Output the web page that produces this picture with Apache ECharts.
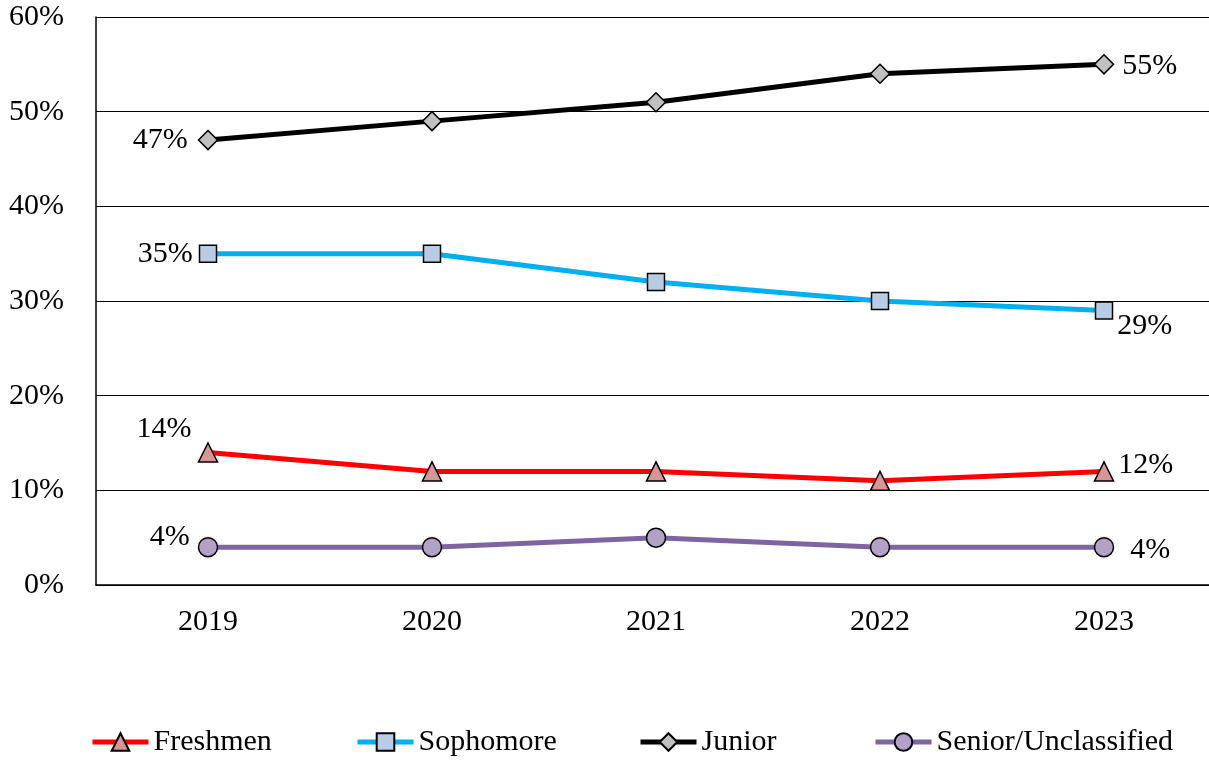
<!DOCTYPE html>
<html>
<head>
<meta charset="utf-8">
<script src="https://cdn.jsdelivr.net/npm/echarts@6/dist/echarts.min.js"></script>
<style>html,body{margin:0;padding:0;background:#fff;overflow:hidden}#c{width:1216px;height:761px}</style>
</head>
<body>
<div id="c"></div>
<script>
const categories = ['2019', '2020', '2021', '2022', '2023'];
const freshmen = [14, 12, 12, 11, 12];
const sophomore = [35, 35, 32, 30, 29];
const junior = [47, 49, 51, 54, 55];
const senior = [4, 4, 5, 4, 4];
const yTicks = [0, 10, 20, 30, 40, 50, 60];
const seriesNames = ['Freshmen', 'Sophomore', 'Junior', 'Senior/Unclassified'];

const FONT = 'Liberation Serif';
const FS = 30;
const lbl = {fontFamily: FONT, fontSize: FS, color: '#000'};

function withLabels(values, first, last) {
  return values.map((v, i) => {
    if (i === 0) return {value: v, label: Object.assign({show: true, formatter: v + '%'}, lbl, first)};
    if (i === values.length - 1) return {value: v, label: Object.assign({show: true, formatter: v + '%'}, lbl, last)};
    return v;
  });
}

function series(name, values, color, fill, symbol, size, first, last) {
  return {
    name, type: 'line', data: withLabels(values, first, last),
    symbol, symbolSize: size,
    lineStyle: {color, width: 5},
    itemStyle: {color: fill, borderColor: '#000', borderWidth: 1.5},
    label: {show: false},
    emphasis: {disabled: true},
    z: 3
  };
}

const legendLefts = [85, 350, 633, 868];
const legends = seriesNames.map((n, i) => ({
  bottom: -1, left: legendLefts[i],
  itemWidth: 56, itemHeight: 22,
  lineStyle: {width: 5},
  textStyle: {fontFamily: FONT, fontSize: FS, color: '#000'},
  data: [n]
}));

const chart = echarts.init(document.getElementById('c'));
chart.setOption({
  animation: false,
  backgroundColor: '#fff',
  grid: {left: 96, top: 17, right: 0, bottom: 176, containLabel: false},
  xAxis: {
    type: 'category', data: categories, boundaryGap: true,
    axisLine: {show: true, lineStyle: {color: '#000', width: 1.5}},
    axisTick: {show: false},
    axisLabel: {fontFamily: FONT, fontSize: FS, color: '#000', margin: 22},
    splitLine: {show: false}
  },
  yAxis: {
    type: 'value', min: 0, max: 60, interval: 10,
    axisLine: {show: true, lineStyle: {color: '#000', width: 1.5}},
    axisTick: {show: false},
    axisLabel: {fontFamily: FONT, fontSize: FS, color: '#000', margin: 32, formatter: v => yTicks.includes(v) ? v + '%' : ''},
    splitLine: {show: true, lineStyle: {color: '#000', width: 1.2}}
  },
  legend: legends,
  series: [
    series(seriesNames[0], freshmen, '#FF0000', '#D99594', 'triangle', 19,
      {position: 'top', offset: [-44, 7]}, {position: 'right', distance: 4, offset: [0, -6]}),
    series(seriesNames[1], sophomore, '#00B0F0', '#B8CCE4', 'rect', 17,
      {position: 'left', distance: 6}, {position: 'right', distance: 4, offset: [0, 16]}),
    series(seriesNames[2], junior, '#000000', '#C0C0C0', 'diamond', 19,
      {position: 'left', distance: 10}, {position: 'right', distance: 8, offset: [0, 2]}),
    series(seriesNames[3], senior, '#8064A2', '#B3A2C7', 'circle', 19,
      {position: 'left', distance: 8, offset: [0, -10]}, {position: 'right', distance: 16, offset: [0, 3]})
  ]
});
</script>
</body>
</html>
